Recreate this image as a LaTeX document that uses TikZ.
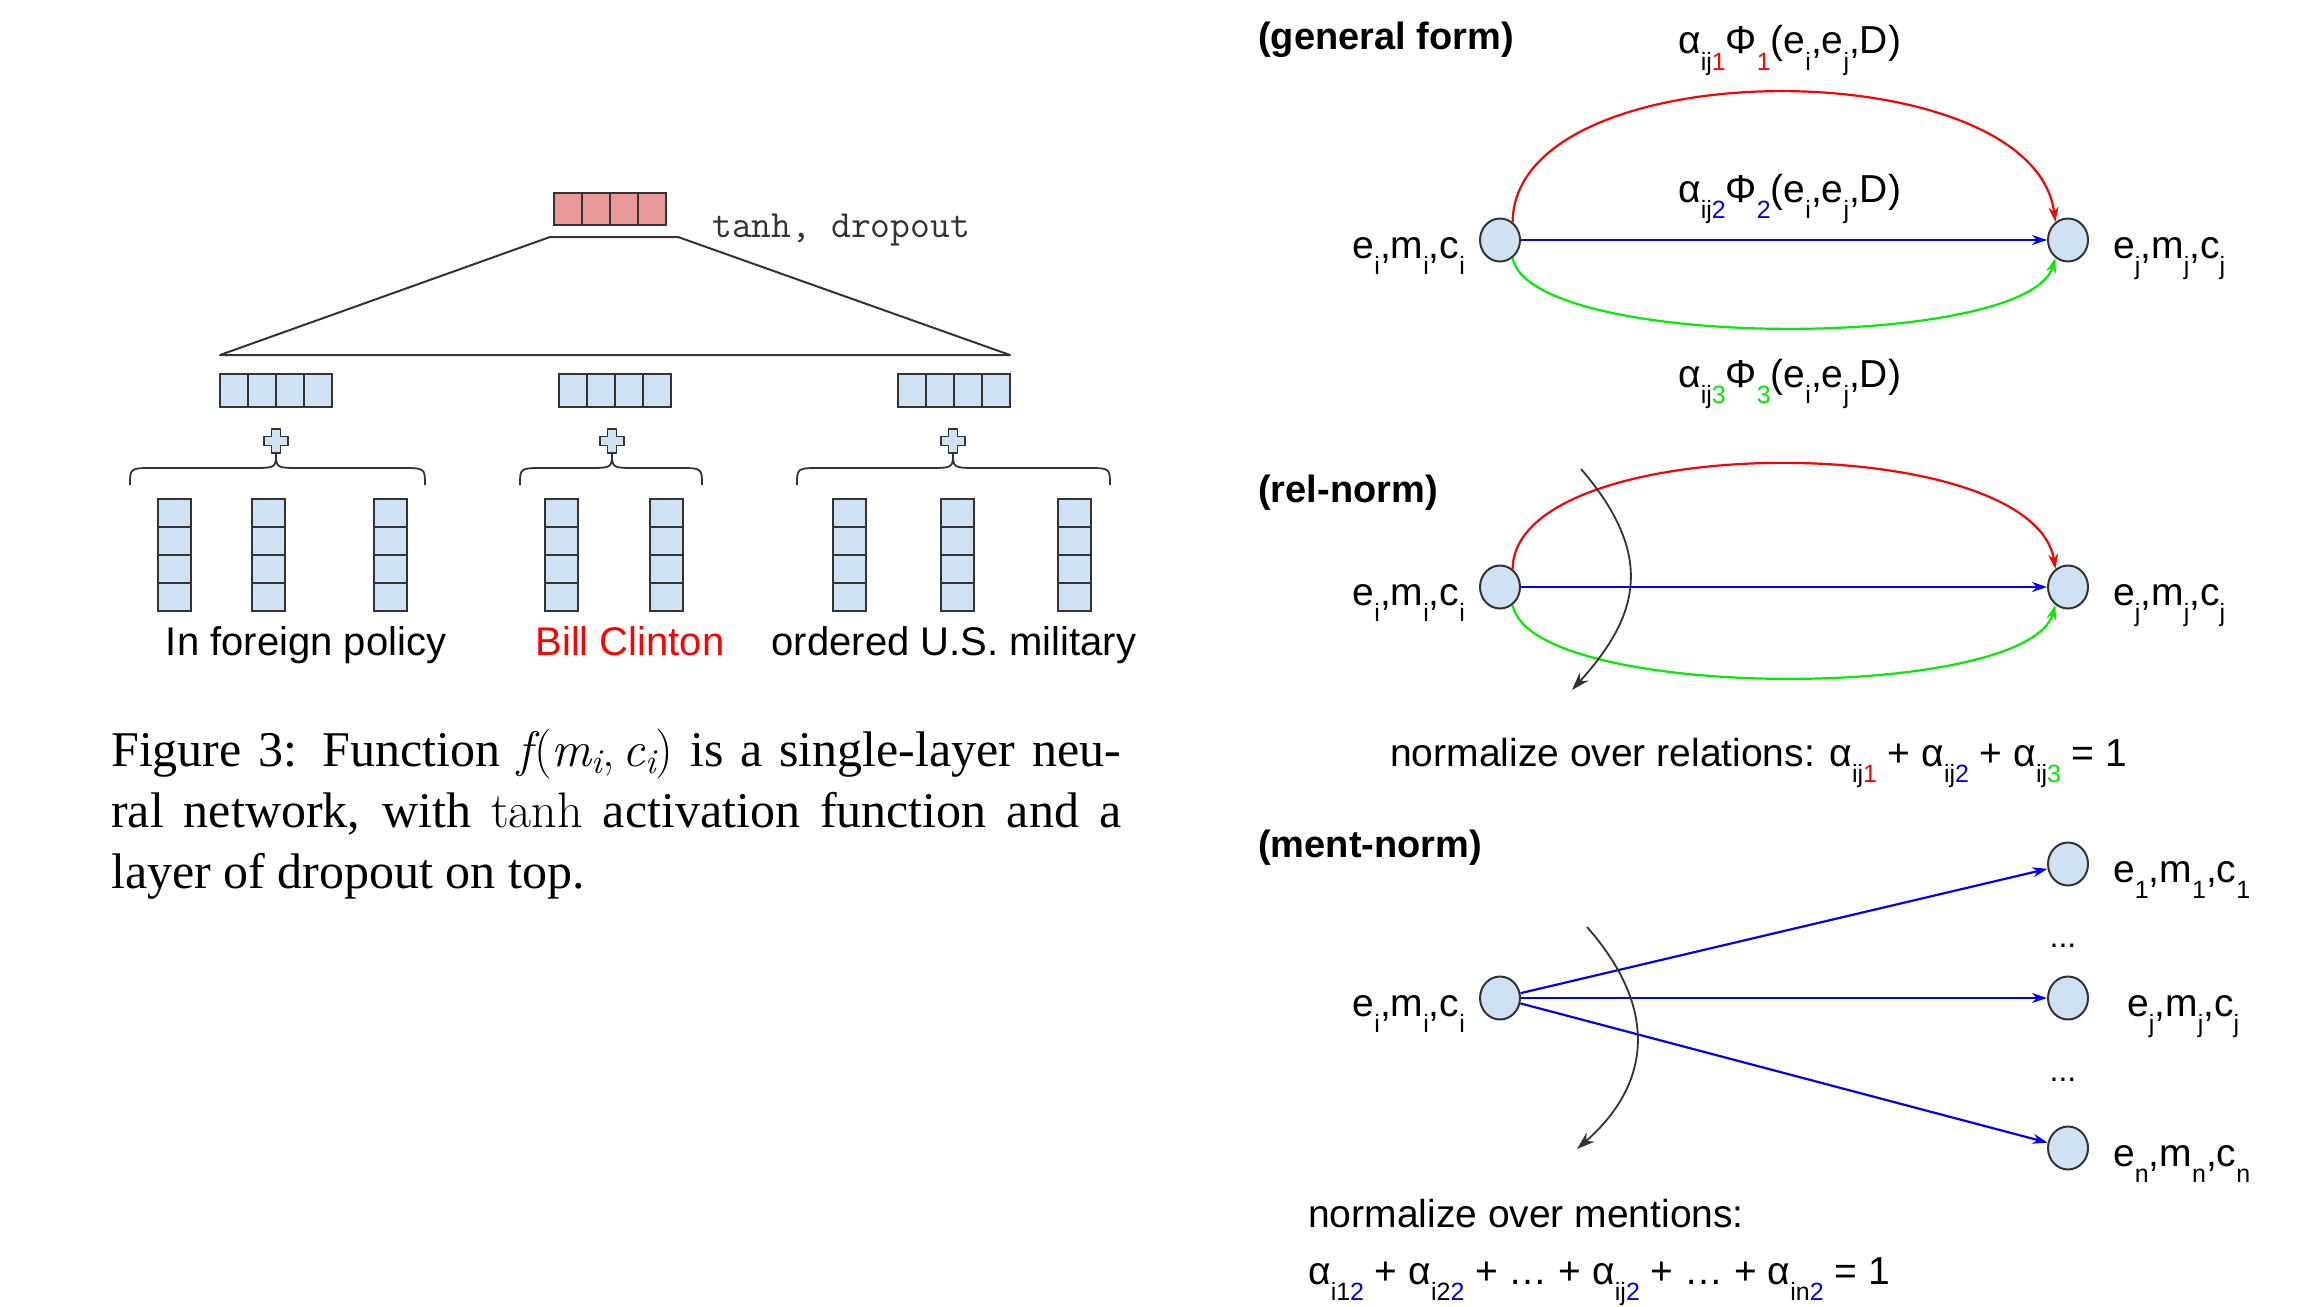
\documentclass[tikz,border=0pt]{standalone}
\usepackage{fontspec}
\setmainfont{Liberation Sans}
\newfontfamily\capfont{Liberation Serif}
\usetikzlibrary{arrows.meta,shapes.geometric}
\definecolor{lblue}{HTML}{CFE2F3}
\definecolor{lred}{HTML}{EA9999}
\definecolor{outl}{HTML}{333333}
\definecolor{pblue}{HTML}{0000FF}
\definecolor{pred}{HTML}{FF0000}
\definecolor{pgreen}{HTML}{00EE00}
\newcommand{\sbx}[1]{\raisebox{-0.42em}{\fontsize{25pt}{25pt}\selectfont #1}}
\newcommand{\lmfam}{\fontfamily{lmr}\selectfont}
\newcommand{\lmit}[1]{{\fontfamily{lmr}\itshape\selectfont #1}}
\newcommand{\lmsub}[1]{\raisebox{-0.15em}{\fontfamily{lmr}\fontsize{35pt}{35pt}\itshape\selectfont #1}}
\tikzset{
  ent/.style={ellipse, draw=outl, fill=lblue, line width=2pt, minimum width=40pt, minimum height=43pt, inner sep=0pt},
  lab/.style={font=\fontsize{39pt}{46pt}\selectfont, inner sep=0pt},
  ttl/.style={font=\fontsize{38pt}{46pt}\selectfont\bfseries, inner sep=0pt},
  wlab/.style={font=\fontsize{40pt}{48pt}\selectfont, inner sep=0pt, anchor=base},
  capst/.style={font=\capfont\fontsize{50pt}{61pt}\selectfont, inner sep=0pt, anchor=base west},
  mono/.style={font=\ttfamily\fontsize{38.5pt}{44pt}\selectfont, text=outl, inner sep=0pt},
  rel/.style={line width=2.2pt, -{Stealth[length=15pt,width=10pt]}},
  cutarrow/.style={line width=1.8pt, outl, -{Stealth[length=18pt,width=12pt]}},
  cellR/.style={draw=outl, fill=lred, line width=1.8pt},
  cellB/.style={draw=outl, fill=lblue, line width=1.8pt},
  tline/.style={draw=outl, line width=2pt, line join=round},
  bracest/.style={draw=outl, line width=1.8pt},
  plusst/.style={draw=outl, fill=lblue, line width=1.5pt, line join=round},
}
\begin{document}
\begin{tikzpicture}[x=1pt,y=-1pt]
\useasboundingbox (0,0) rectangle (2312,1306);
\fill[white] (0,0) rectangle (2312,1306);

% ---------------- left: network ----------------
\foreach \i in {0,1,2,3} \draw[cellR] ({554+28*\i},193) rectangle ++(28,32);
\draw[tline] (550,237) -- (678,237) -- (1010,355) -- (220,355) -- cycle;
\node[mono, anchor=base west] (td) at (712,237) {tanh, dropout};

\foreach \bx in {220,559,898} {
  \foreach \i in {0,1,2,3} \draw[cellB] ({\bx+28*\i},374) rectangle ++(28,33);
}
\foreach \cx in {276,612,953} {
  \begin{scope}[shift={(\cx,441)}]
    \draw[plusst] (-4.5,-12) -- (4.5,-12) -- (4.5,-4.5) -- (12,-4.5) -- (12,4.5) -- (4.5,4.5) -- (4.5,12) -- (-4.5,12) -- (-4.5,4.5) -- (-12,4.5) -- (-12,-4.5) -- (-4.5,-4.5) -- cycle;
  \end{scope}
}
\foreach \a/\b/\t in {130/425/276, 520/702/612, 797/1110/953} {
  \draw[bracest] (\a,485) .. controls (\a,468) .. ({\a+24},468) -- ({\t-26},468)
     .. controls (\t,468) .. (\t,453) .. controls (\t,468) .. ({\t+26},468)
     -- ({\b-24},468) .. controls (\b,468) .. (\b,485);
}
\foreach \bx in {158,252,374,545,650,833,941,1058} {
  \foreach \k in {0,1,2,3} \draw[cellB] (\bx,{499+28*\k}) rectangle ++(33,28);
}
\node[wlab] (w1) at (306,655) {In foreign policy};
\node[wlab, text=pred] (w2) at (630,655) {Bill Clinton};
\node[wlab] (w3) at (954,655) {ordered U.S. military};

\node[capst] (c1) at (111,766) {\makebox[1010pt][s]{Figure 3: Function \lmit{f}\kern2pt{\lmfam(}\lmit{m}\lmsub{i}{\lmfam,}\kern8pt\lmit{c}\lmsub{i}{\lmfam)} is a single-layer neu-}};
\node[capst] (c2) at (111,827) {\makebox[1010pt][s]{ral network, with {\lmfam tanh} activation function and a}};
\node[capst] (c3) at (111,888) {layer of dropout on top.};

% ---------------- right: general form ----------------
\node[ttl, anchor=base west] (t1) at (1258,50) {(general form)};
\node[ent] (gi) at (1500,240) {};
\node[ent] (gj) at (2068,240) {};
\node[lab, anchor=base east] (gil) at (1465,258) {e\sbx{i},m\sbx{i},c\sbx{i}};
\node[lab, anchor=base west] (gjl) at (2113,258) {e\sbx{j},m\sbx{j},c\sbx{j}};
\draw[rel, pred] (gi.55) .. controls +(2,-173) and +(-22,-173) .. (gj.125);
\draw[rel, pblue] (gi) -- (gj);
\draw[rel, pgreen] (gi.-55) .. controls +(18,93) and +(-28,93) .. (gj.-125);
\node[lab, anchor=base west] (g1) at (1678,54) {α\sbx{ij\textcolor{pred}{1}}Φ\sbx{\textcolor{pred}{1}}(e\sbx{i},e\sbx{j},D)};
\node[lab, anchor=base west] (g2) at (1678,202) {α\sbx{ij\textcolor{pblue}{2}}Φ\sbx{\textcolor{pblue}{2}}(e\sbx{i},e\sbx{j},D)};
\node[lab, anchor=base west] (g3) at (1678,387) {α\sbx{ij\textcolor{pgreen}{3}}Φ\sbx{\textcolor{pgreen}{3}}(e\sbx{i},e\sbx{j},D)};

% ---------------- rel-norm ----------------
\node[ttl, anchor=base west] (t2) at (1258,502) {(rel-norm)};
\node[ent] (ri) at (1500,587) {};
\node[ent] (rj) at (2068,587) {};
\node[lab, anchor=base east] (ril) at (1465,605) {e\sbx{i},m\sbx{i},c\sbx{i}};
\node[lab, anchor=base west] (rjl) at (2113,605) {e\sbx{j},m\sbx{j},c\sbx{j}};
\draw[rel, pred] (ri.55) .. controls +(2,-140) and +(-22,-140) .. (rj.125);
\draw[rel, pblue] (ri) -- (rj);
\draw[rel, pgreen] (ri.-55) .. controls +(18,97) and +(-28,97) .. (rj.-125);
\coordinate (rs) at (1581,469);
\coordinate (re) at (1572,690);
\draw[cutarrow] (rs) .. controls (1655,555) and (1640,615) .. (re);
\node[lab, anchor=base west] (rn) at (1390,766) {normalize over relations: α\sbx{ij\textcolor{pred}{1}} + α\sbx{ij\textcolor{pblue}{2}} + α\sbx{ij\textcolor{pgreen}{3}} = 1};

% ---------------- ment-norm ----------------
\node[ttl, anchor=base west] (t3) at (1258,857) {(ment-norm)};
\node[ent] (mi) at (1500,998) {};
\node[ent] (m1) at (2068,864) {};
\node[ent] (mj) at (2068,998) {};
\node[ent] (mn) at (2068,1148) {};
\node[lab, anchor=base east] (mil) at (1465,1016) {e\sbx{i},m\sbx{i},c\sbx{i}};
\node[lab, anchor=base west] (m1l) at (2113,882) {e\sbx{1},m\sbx{1},c\sbx{1}};
\node[lab, anchor=base west] (mjl) at (2127,1016) {e\sbx{j},m\sbx{j},c\sbx{j}};
\node[lab, anchor=base west] (mnl) at (2113,1166) {e\sbx{n},m\sbx{n},c\sbx{n}};
\node[lab, anchor=base, font=\fontsize{32pt}{36pt}\selectfont] (d1) at (2063,947) {...};
\node[lab, anchor=base, font=\fontsize{32pt}{36pt}\selectfont] (d2) at (2063,1081) {...};
\draw[rel, pblue] (mi) -- (m1);
\draw[rel, pblue] (mi) -- (mj);
\draw[rel, pblue] (mi) -- (mn);
\coordinate (ms) at (1587,927);
\coordinate (me) at (1577,1149);
\draw[cutarrow] (ms) .. controls (1660,1010) and (1650,1085) .. (me);
\node[lab, anchor=base west] (mn1) at (1308,1227) {normalize over mentions:};
\node[lab, anchor=base west] (mn2) at (1308,1284) {α\sbx{i1\textcolor{pblue}{2}} + α\sbx{i2\textcolor{pblue}{2}} + … + α\sbx{ij\textcolor{pblue}{2}} + … + α\sbx{in\textcolor{pblue}{2}} = 1};
\end{tikzpicture}
\end{document}
